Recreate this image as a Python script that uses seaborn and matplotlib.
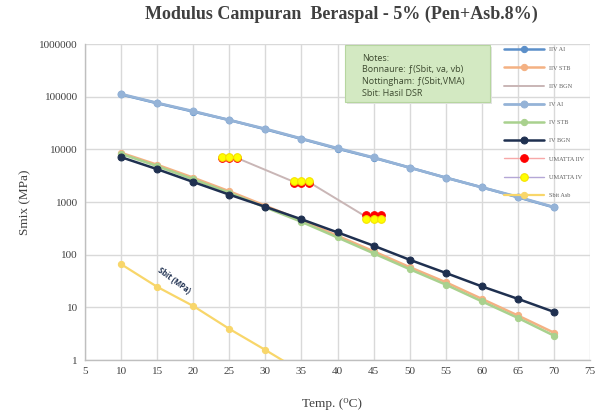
import numpy as np
import pandas as pd
import matplotlib
matplotlib.use("Agg")
import matplotlib.pyplot as plt
import seaborn as sns
from matplotlib.patches import FancyBboxPatch
from matplotlib.ticker import FixedLocator, FixedFormatter, NullLocator

# ---------------- data ----------------
temps = [10, 15, 20, 25, 30, 35, 40, 45, 50, 55, 60, 65, 70]
iiv_ai = [110000, 75000, 52000, 36000, 24000, 15800, 10300, 6900, 4500, 2900, 1900, 1230, 790]
iv_ai = [112000, 76000, 53000, 36000, 24500, 16000, 10500, 7000, 4500, 2900, 1900, 1250, 800]
iiv_stb = [8600, 5100, 2900, 1600, 850, 450, 228, 116, 58, 30, 14.5, 7.0, 3.3]
iv_stb = [8200, 4800, 2700, 1500, 790, 420, 212, 106, 53, 27, 13, 6.3, 2.9]
iv_bgn = [7100, 4200, 2400, 1380, 810, 470, 265, 148, 80, 45, 25, 14.5, 8.2]

umatta_t = [24, 25, 26, 34, 35, 36, 44, 45, 46]
iiv_bgn = [6900, 6900, 6900, 2400, 2400, 2400, 520, 520, 520]
umatta_iiv = [6800, 6800, 6800, 2250, 2250, 2250, 560, 560, 560]
umatta_iv = [7000, 7000, 7000, 2550, 2550, 2550, 470, 470, 470]

sbit_t = [10, 15, 20, 25, 30, 35]
sbit = [66, 24.5, 10.6, 3.9, 1.55, 0.6]

x_ticks = [5, 10, 15, 20, 25, 30, 35, 40, 45, 50, 55, 60, 65, 70, 75]
y_ticks = [1, 10, 100, 1000, 10000, 100000, 1000000]
y_labels = ["1", "10", "100", "1000", "10000", "100000", "1000000"]

series = [
    ("IIV AI", temps, iiv_ai, "#5b8fc9", 1.8, "o", 4.5),
    ("IIV STB", temps, iiv_stb, "#f4b183", 1.8, "o", 4.5),
    ("IIV BGN", umatta_t, iiv_bgn, "#c9b6b6", 1.4, None, 0),
    ("IV AI", temps, iv_ai, "#95b3d7", 2.0, "o", 5),
    ("IV STB", temps, iv_stb, "#a9d18e", 1.8, "o", 4.5),
    ("IV BGN", temps, iv_bgn, "#1f3050", 1.8, "o", 5),
]

# ---------------- figure ----------------
sns.set_theme(style="white")
plt.rcParams["font.family"] = ["Liberation Serif", "DejaVu Serif"]

fig = plt.figure(figsize=(5.97, 4.11), dpi=100)
ax = fig.add_axes([85 / 597, 1 - 360 / 411, 505 / 597, 316 / 411])

for name, xs, ys, col, lw, mk, ms in series:
    df = pd.DataFrame({"x": xs, "y": ys})
    sns.lineplot(data=df, x="x", y="y", ax=ax, color=col, linewidth=lw,
                 marker=mk if mk else None, markersize=ms,
                 markeredgecolor=col, label=name, zorder=3, estimator=None,
                 sort=False)

df_u2 = pd.DataFrame({"x": umatta_t, "y": umatta_iiv})
sns.lineplot(data=df_u2, x="x", y="y", ax=ax, color="#ff0000", linewidth=0,
             marker="o", markersize=5.5, markeredgecolor="#ff0000",
             label="UMATTA IIV", zorder=4, estimator=None)
df_u1 = pd.DataFrame({"x": umatta_t, "y": umatta_iv})
sns.lineplot(data=df_u1, x="x", y="y", ax=ax, color="#ffff00", linewidth=0,
             marker="o", markersize=5.5, markeredgecolor="#f5e000",
             label="UMATTA IV", zorder=5, estimator=None)

df_s = pd.DataFrame({"x": sbit_t, "y": sbit})
sns.lineplot(data=df_s, x="x", y="y", ax=ax, color="#f8d66a", linewidth=1.6,
             marker="o", markersize=4.5, markeredgecolor="#f8d66a",
             label="Sbit Asb", zorder=3, estimator=None)

ax.set_yscale("log")
ax.set_xlim(5, 75)
ax.set_ylim(1, 1000000)
ax.xaxis.set_major_locator(FixedLocator(x_ticks))
ax.yaxis.set_major_locator(FixedLocator(y_ticks))
ax.yaxis.set_major_formatter(FixedFormatter(y_labels))
ax.yaxis.set_minor_locator(NullLocator())
ax.grid(True, which="major", color="#d9d9d9", linewidth=1.0)
ax.set_axisbelow(True)
for s in ["top", "right"]:
    ax.spines[s].set_visible(False)
for s in ["left", "bottom"]:
    ax.spines[s].set_color("#bfbfbf")
    ax.spines[s].set_linewidth(1.0)
ax.tick_params(axis="both", labelsize=8, colors="#404040", length=0, pad=5)

ax.set_xlabel("Temp. (\u2070C)", fontsize=9.5, color="#404040", labelpad=4)
ax.xaxis.set_label_coords(0.49, -0.12)
ax.set_ylabel("Smix (MPa)", fontsize=9.5, color="#404040", labelpad=6)

fig.text(0.572, 0.965, "Modulus Campuran  Beraspal - 5% (Pen+Asb.8%)",
         ha="center", va="center", fontsize=13, fontweight="bold", color="#404040")

# Sbit label on the line
ax.text(17.0, 27, "Sbit (MPa)", rotation=-36, fontsize=5.5, color="#1f3050",
        ha="center", va="bottom", family=["Open Sans", "DejaVu Sans"], fontweight="bold",
        rotation_mode="anchor")

# legend
leg = ax.legend(loc="upper right", bbox_to_anchor=(1.0, 1.008), fontsize=4.5,
                frameon=True, framealpha=0.0, edgecolor="#8064a2", fancybox=False,
                labelspacing=2.05, handlelength=6.5, borderpad=0.9, handletextpad=0.8,
                borderaxespad=0.0)
leg.get_frame().set_linewidth(1.6)
for t in leg.get_texts():
    t.set_color("#606060")
hs = leg.legend_handles
hs[6].set_linewidth(1.0)
hs[6].set_color("#f7a8a8")
hs[6].set_markerfacecolor("#ff0000")
hs[6].set_markeredgecolor("#ff0000")
hs[7].set_linewidth(1.0)
hs[7].set_color("#b4a7d6")
hs[7].set_markerfacecolor("#ffff00")
hs[7].set_markeredgecolor("#f5e000")

# notes box
bx0, by0, bw, bh = 345 / 597, 1 - 102 / 411, 145 / 597, 57 / 411
shadow = FancyBboxPatch((bx0 + 0.004, by0 - 0.006), bw, bh, boxstyle="square,pad=0",
                        transform=fig.transFigure, facecolor="#e3e3e3", edgecolor="none", zorder=5)
box = FancyBboxPatch((bx0, by0), bw, bh, boxstyle="square,pad=0",
                     transform=fig.transFigure, facecolor="#d3e9c2", edgecolor="#b6d69f",
                     linewidth=0.8, zorder=6)
fig.patches.extend([shadow, box])
notes = ["Notes:", "Bonnaure: \u0192(Sbit, va, vb)", "Nottingham: \u0192(Sbit,VMA)", "Sbit: Hasil DSR"]
for i, line in enumerate(notes):
    fig.text(362 / 597, 1 - (58 + 12 * i) / 411, line, fontsize=6.5, color="#3d4a30",
             family=["Open Sans", "DejaVu Sans"], va="center", ha="left", zorder=7)

fig.savefig("out.png", dpi=100)
